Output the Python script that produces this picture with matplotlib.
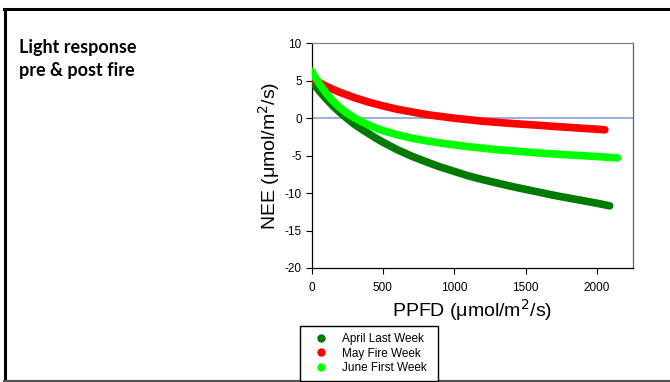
import matplotlib
matplotlib.use("Agg")
import matplotlib.pyplot as plt
from matplotlib.lines import Line2D
from matplotlib.patches import Rectangle

# ---- data ----
april_x = [0, 50, 100, 150, 200, 250, 300, 350, 400, 450, 500, 600, 700, 800, 900, 1000,
           1100, 1200, 1300, 1400, 1500, 1600, 1700, 1800, 1900, 2000, 2090]
april_y = [5.0, 3.75, 2.65, 1.65, 0.75, -0.05, -0.8, -1.45, -2.05, -2.65, -3.2, -4.2, -5.05, -5.8, -6.5, -7.1,
           -7.7, -8.2, -8.65, -9.1, -9.5, -9.9, -10.3, -10.65, -11.0, -11.35, -11.7]

may_x = [0, 50, 100, 150, 200, 250, 300, 350, 400, 450, 500, 600, 700, 800, 900, 1000,
         1100, 1200, 1300, 1400, 1500, 1600, 1700, 1800, 1900, 2000, 2056]
may_y = [5.3, 4.8, 4.3, 3.85, 3.45, 3.1, 2.75, 2.45, 2.15, 1.9, 1.65, 1.2, 0.85, 0.5, 0.25, 0.0,
         -0.2, -0.4, -0.55, -0.7, -0.83, -0.95, -1.1, -1.22, -1.35, -1.47, -1.55]

june_x = [0, 25, 50, 100, 150, 200, 250, 300, 350, 400, 450, 500, 600, 700, 800, 900, 1000,
          1100, 1200, 1300, 1400, 1500, 1600, 1700, 1800, 1900, 2000, 2100, 2145]
june_y = [6.3, 5.5, 4.75, 3.4, 2.3, 1.4, 0.65, 0.05, -0.45, -0.9, -1.3, -1.65, -2.2, -2.65, -3.0, -3.3, -3.55,
          -3.8, -4.0, -4.2, -4.35, -4.5, -4.65, -4.77, -4.9, -5.0, -5.12, -5.25, -5.3]

series_names = ["April Last Week", "May Fire Week", "June First Week"]
series_colors = ["#007a00", "#ff0000", "#00ff00"]

x_ticks = [0, 500, 1000, 1500, 2000]
y_ticks = [-20, -15, -10, -5, 0, 5, 10]

plt.rcParams['font.family'] = ['Liberation Sans', 'DejaVu Sans']
plt.rcParams['axes.unicode_minus'] = False

W, H = 670, 382
fig = plt.figure(figsize=(W / 100, H / 100), dpi=100)

ax = fig.add_axes([311.5 / W, 1 - 268 / H, (632.5 - 311.5) / W, (268 - 43.3) / H])

series = [(april_x, april_y), (may_x, may_y), (june_x, june_y)]
for (xs, ys), c in zip(series, series_colors):
    ax.plot(xs, ys, color=c, lw=5.5, solid_capstyle='round', solid_joinstyle='round', zorder=3)

ax.axhline(0, color="#8faadc", lw=1.3, zorder=2)

ax.set_xlim(0, 2250)
ax.set_ylim(-20, 10)
ax.set_xticks(x_ticks)
ax.set_yticks(y_ticks)
ax.tick_params(axis='both', labelsize=8.5, length=4, width=0.8, direction='out', pad=3)
ax.tick_params(axis='x', pad=6)
ax.spines['left'].set_color('black')
ax.spines['bottom'].set_color('black')
ax.spines['top'].set_color('#808080')
ax.spines['right'].set_color('#606060')
for s in ax.spines.values():
    s.set_linewidth(0.9)

ax.set_xlabel("PPFD (\u03bcmol/m$^2$/s)", fontsize=14, labelpad=2)
ax.set_ylabel("NEE (\u03bcmol/m$^2$/s)", fontsize=14, labelpad=2)

# legend box (drawn separately so it reaches the slide bottom)
fig.add_artist(Rectangle((300 / W, 1 - 381 / H), 138 / W, 55 / H, transform=fig.transFigure,
                         facecolor='white', edgecolor='black', lw=1.0, zorder=4))
handles = [Line2D([], [], marker='o', ls='none', color=c, markersize=5) for c in series_colors]
leg = fig.legend(handles, series_names, loc='upper left',
                 bbox_to_anchor=(312 / W, 1 - 333 / H), fontsize=8.5,
                 frameon=False, handletextpad=0.9, labelspacing=0.22, borderpad=0,
                 handlelength=1.6, borderaxespad=0)
leg.set_zorder(5)

# title text
fig.text(19 / W, 1 - 39 / H, "Light response\npre & post fire", fontsize=13,
         fontweight='bold', family=['Lato', 'DejaVu Sans'], va='top', ha='left',
         linespacing=1.4)

# slide frame
fig.add_artist(Line2D([5 / W, 5 / W], [1 - 8.5 / H, 1 - 380.5 / H], color='black', lw=2.2,
                      transform=fig.transFigure))
fig.add_artist(Line2D([4 / W, 1], [1 - 8.5 / H, 1 - 8.5 / H], color='black', lw=2.2,
                      transform=fig.transFigure))
fig.add_artist(Line2D([4 / W, 1], [1 - 380.5 / H, 1 - 380.5 / H], color='#555555', lw=1.6,
                      transform=fig.transFigure))

fig.savefig("out.png", dpi=100)
